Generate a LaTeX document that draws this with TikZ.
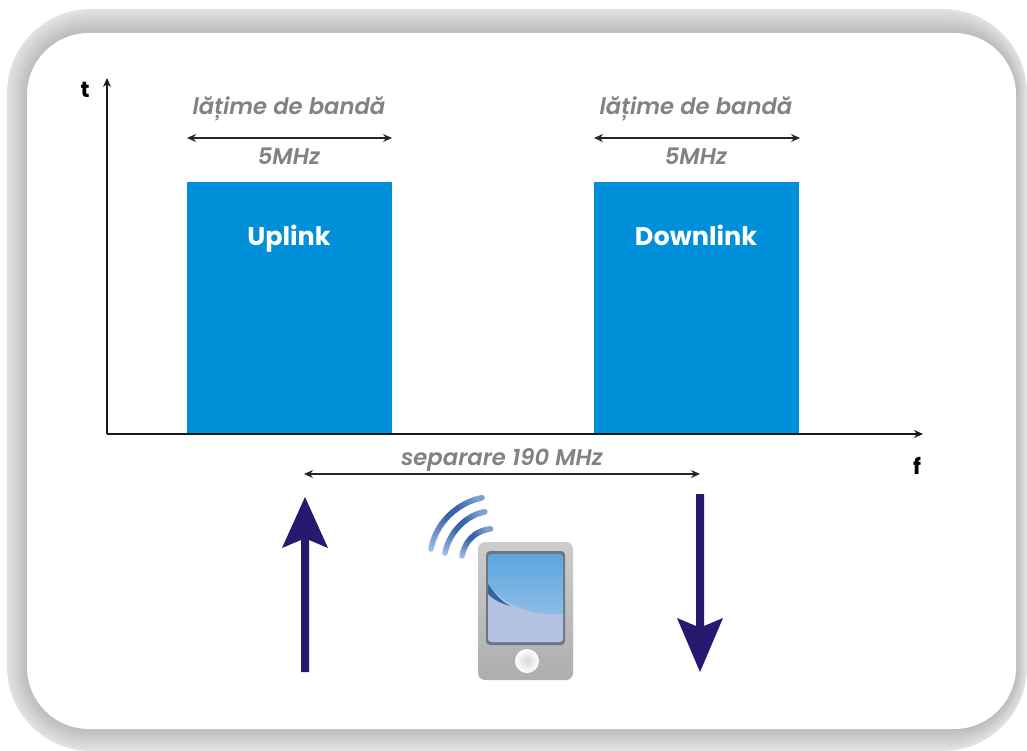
\documentclass[tikz,border=0pt]{standalone}
\usepackage{fontspec}
\setmainfont{Poppins}
\newfontfamily\notefont{Poppins SemiBold}[ItalicFont={Poppins SemiBold Italic}]
\usetikzlibrary{arrows.meta,calc}
\definecolor{barblue}{HTML}{0090DA}
\definecolor{txtgray}{HTML}{808285}
\definecolor{navy}{HTML}{251A70}
\definecolor{wavedark}{HTML}{3764AA}
\definecolor{wavelight}{HTML}{AFCDEB}
\definecolor{screentop}{HTML}{5BA6DE}
\definecolor{screenmid}{HTML}{8FBDE8}
\definecolor{screenlow}{HTML}{B3C2E3}
\definecolor{screenedge}{HTML}{6A7683}
\definecolor{swoosh}{HTML}{3264A0}
\tikzset{
  bar/.style={fill=barblue,draw=none,minimum width=205pt,minimum height=252pt,inner sep=0pt,anchor=north west},
  bartext/.style={text=white,font=\fontsize{25.5}{28}\selectfont\bfseries,inner sep=0pt,anchor=base},
  note/.style={text=txtgray,font=\notefont\fontsize{22.7}{25}\selectfont\itshape,inner sep=0pt,anchor=base},
  axislabel/.style={text=black,font=\fontsize{22}{24}\selectfont\bfseries,inner sep=0pt},
  axisline/.style={draw=black!90,line width=1.3pt,-{Stealth[length=9pt,width=8pt]}},
  dim/.style={draw=black!85,line width=1.2pt,{Stealth[length=9pt,width=8pt]}-{Stealth[length=9pt,width=8pt]}},
  bigarrow/.style={draw=none,fill=navy},
}
\begin{document}
\begin{tikzpicture}[x=1pt,y=-1pt]
\useasboundingbox (0,0) rectangle (1027,751);
\fill[white] (0,0) rectangle (1027,751);
% frame
\foreach \i in {0,...,20}{
  \pgfmathsetmacro{\tone}{89-\i*0.75}
  \pgfmathsetmacro{\lft}{7+\i}
  \pgfmathsetmacro{\tp}{9+\i*1.14}
  \pgfmathsetmacro{\rgt}{1027-\i*0.52}
  \pgfmathsetmacro{\btm}{751-\i*1.05}
  \pgfmathsetmacro{\rad}{84-\i*1.05}
  \fill[rounded corners=\rad pt,fill=white!\tone!black] (\lft,\tp) rectangle (\rgt,\btm);
}
\fill[white,rounded corners=62pt] (27,33) rectangle (1016,729);
% bars
\node[bar] (up) at (187,182) {};
\node[bar] (down) at (594,182) {};
\node[bartext] (uptext) at (289,246) {Uplink};
\node[bartext] (downtext) at (696,246) {Downlink};
% axes
\coordinate (origin) at (107,434);
\coordinate (ytop) at (107,78);
\coordinate (xend) at (923,434);
\draw[axisline] (origin) -- (ytop);
\draw[axisline] (origin) -- (xend);
\node[axislabel] (tlabel) at (85,90) {t};
\node[axislabel] (flabel) at (917,466) {f};
% width dims
\coordinate (u1) at (187,138); \coordinate (u2) at (392,138);
\coordinate (d1) at (594,138); \coordinate (d2) at (800,138);
\draw[dim] (u1) -- (u2);
\draw[dim] (d1) -- (d2);
\node[note] (ubw) at (289,115) {lățime de bandă};
\node[note] (dbw) at (696,115) {lățime de bandă};
\node[note] (u5) at (289,165) {5MHz};
\node[note] (d5) at (696,165) {5MHz};
% separation
\coordinate (s1) at (304,474); \coordinate (s2) at (700,474);
\draw[dim] (s1) -- (s2);
\node[note] (sep) at (502,465) {separare 190 MHz};
% big arrows
\fill[bigarrow] (301,672) -- (301,540) -- (282,548) -- (305,497) -- (328,548) -- (309,540) -- (309,672) -- cycle;
\fill[bigarrow] (696,494) -- (696,626) -- (677,618) -- (700,672) -- (723,618) -- (704,626) -- (704,494) -- cycle;
% phone body
\shade[rounded corners=7pt,top color=black!20,middle color=black!42,bottom color=black!32] (478,542) rectangle (573,680);
% screen
\fill[rounded corners=4pt,fill=screenedge] (486,551) rectangle (565,645);
\begin{scope}
  \clip[rounded corners=3pt] (488,554) rectangle (563,642);
  \shade[top color=screentop,bottom color=screenmid] (488,554) rectangle (563,616);
  \fill[fill=screenlow] (488,584) .. controls (505,608) and (535,616) .. (563,614) -- (563,642) -- (488,642) -- cycle;
  \fill[fill=swoosh] (488,584) .. controls (495,594) and (500,600) .. (510,606) .. controls (500,603) and (494,600) .. (488,594) -- cycle;
\end{scope}
% button
\fill[black!30] (527,661) circle (13);
\shade[inner color=black!15,outer color=white] (527,661) circle (12);
% waves
\foreach \ax/\ay/\bx/\by/\cx/\cy/\dx/\dy in {
  431/549/436/522/458/503/481/498,
  445/553/449/533/465/516/484/512,
  462/556/465/541/475/531/490/529}{
  \foreach \k in {0,...,19}{
    \pgfmathsetmacro{\ts}{\k/20}
    \pgfmathsetmacro{\te}{(\k+1.3)/20}
    \pgfmathsetmacro{\xs}{(1-\ts)^3*\ax+3*(1-\ts)^2*\ts*\bx+3*(1-\ts)*\ts^2*\cx+\ts^3*\dx}
    \pgfmathsetmacro{\ys}{(1-\ts)^3*\ay+3*(1-\ts)^2*\ts*\by+3*(1-\ts)*\ts^2*\cy+\ts^3*\dy}
    \pgfmathsetmacro{\xe}{(1-\te)^3*\ax+3*(1-\te)^2*\te*\bx+3*(1-\te)*\te^2*\cx+\te^3*\dx}
    \pgfmathsetmacro{\ye}{(1-\te)^3*\ay+3*(1-\te)^2*\te*\by+3*(1-\te)*\te^2*\cy+\te^3*\dy}
    \pgfmathsetmacro{\mixv}{min(100,max(0,100*(1-abs(\ts-0.55)/0.55)+15))}
    \draw[line width=5.5pt,line cap=round,draw=wavedark!\mixv!wavelight] (\xs,\ys) -- (\xe,\ye);
  }
}
\end{tikzpicture}
\end{document}
